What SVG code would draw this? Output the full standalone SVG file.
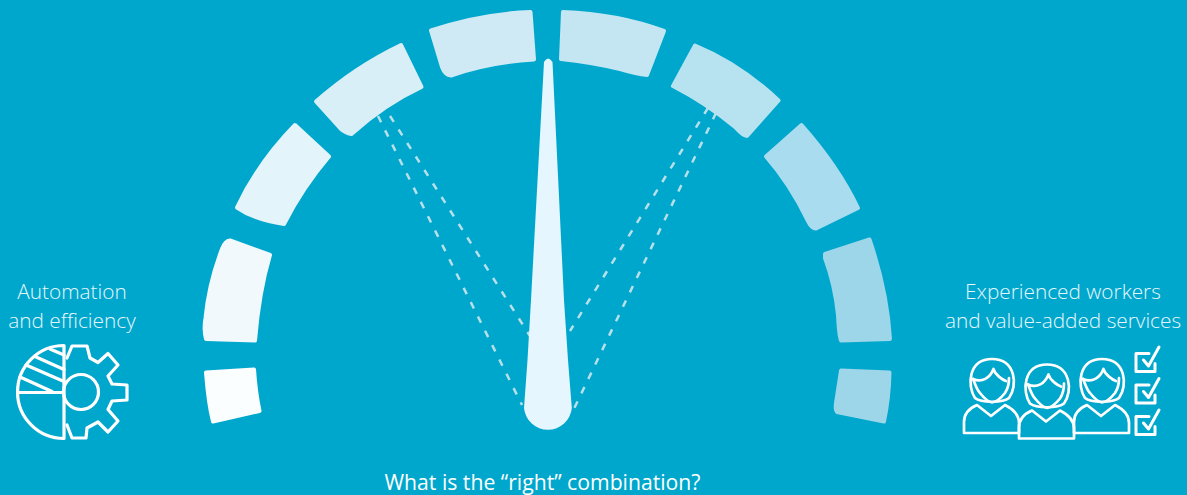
<svg xmlns="http://www.w3.org/2000/svg" xmlns:xlink="http://www.w3.org/1999/xlink" width="1187" height="495" viewBox="0 0 1187 495">
<style>
.seg{stroke-width:4;stroke-linejoin:round}
.dash{fill:none;stroke:#b8e0ea;stroke-width:2.500;stroke-dasharray:7 9}
.ico{fill:none;stroke:#fff;stroke-width:3.200;stroke-linejoin:round;stroke-linecap:round}
.thin{stroke-width:2.700}
.chk{stroke-width:3}
.lab{font-family:"Open Sans","Liberation Sans",sans-serif;font-weight:300;font-size:20.800px;fill:#e6f6fb;text-anchor:middle}
.cap{font-family:"Open Sans","Liberation Sans",sans-serif;font-weight:400;font-size:21.200px;fill:#fff;text-anchor:middle}
</style>
<defs>
<g id="person">
<path d="M975 398C967 386 968 359 992 359C1016 359 1018 386 1009 398C1003 403 981 403 975 398Z"/>
<path d="M973 379C976 386 977 390 980 393C984 398 988 402 992 402.500C996 402 1001 398 1005 393C1007 390 1009 386 1009 378"/>
<path d="M973 379C982 383 990 378 993.500 369C995 375 1003 380 1006 381"/>
<path d="M964 433V422C964 413 970 408 977 405L991 416L1005 405C1013 409 1019 414 1019 423V433Z"/>
</g>
<g id="check">
<path d="M1149 353.500H1136V371.500H1155V363.500"/>
<path d="M1143.500 360L1148.500 366L1159 347"/>
</g>
</defs>
<rect width="1187" height="495" fill="#00a7cd"/>
<g id="connectors">
<path class="dash" d="M378 116L522 405"/>
<path class="dash" d="M390 116L530 336"/>
<path class="dash" d="M716 113L571 415"/>
<path class="dash" d="M708 108L570 331"/>
</g>
<g id="segment-1"><path class="seg" fill="#fbfeff" stroke="#fbfeff" d="M206 372.500L254 369.500Q255.500 392 259.500 411L213 421.500Q208.500 404 206 372.500Z"/></g>
<g id="segment-2"><path class="seg" fill="#f1f9fd" stroke="#f1f9fd" d="M206 339Q203.500 330 205.500 318Q209 283 222 249Q225 241 230 240.500L270 255Q259 292 255 340.500Z"/></g>
<g id="segment-3"><path class="seg" fill="#e4f4fb" stroke="#e4f4fb" d="M237 207.500Q258 163 295 125L329 156.500Q303 187 284 224Q255 220 237 207.500Z"/></g>
<g id="segment-4"><path class="seg" fill="#d8eff7" stroke="#d8eff7" d="M316 101.500Q355 67 401 45L421.500 87Q385 104 351.500 134Q345 133 340 128Z"/></g>
<g id="segment-5"><path class="seg" fill="#cfeaf5" stroke="#cfeaf5" d="M431 30.500Q480 14 530.500 12L534 59.500Q490 62 451 75.500Q445 75 442 67Z"/></g>
<g id="segment-6"><path class="seg" fill="#c3e6f2" stroke="#c3e6f2" d="M563 12Q618 14 664 31L647 75Q637 74 620 69Q590 62 561 59Z"/></g>
<g id="segment-7"><path class="seg" fill="#b7e2f0" stroke="#b7e2f0" d="M695 45.500Q740 64 778.500 100.500L747 136Q743 136 735 127Q706 103 673 86Z"/></g>
<g id="segment-8"><path class="seg" fill="#a9dcee" stroke="#a9dcee" d="M766 156.500L801.500 125Q838 166 858 208L816 228.500Q812 229 808 221Q790 184 766 156.500Z"/></g>
<g id="segment-9"><path class="seg" fill="#9dd6e9" stroke="#9dd6e9" d="M825 254L869.500 239.500Q887 290 890 339L841 340.500Q839 336 838 315Q835 285 825 258Z"/></g>
<g id="segment-10"><path class="seg" fill="#9dd6e9" stroke="#9dd6e9" d="M841 370.500L889.500 372.500Q889 398 884 421.500L837 412Q835 409 836 403Z"/></g>
<g id="needle"><path fill="#e6f6fe" d="M544 62Q548 55 552.500 62L564 300L568 360L571.800 408A24 24 0 0 1 524 408L527.500 360L531 300Z"/></g>
<g id="left-label">
<text class="lab" x="72" y="298.500">Automation</text>
<text class="lab" x="72" y="327.500">and efficiency</text>
</g>
<g id="automation-icon" class="ico">
<path d="M64 345.500A46.500 46.500 0 0 0 64 438.500V345.500M18 392.500H64"/>
<path d="M50 349L64 355M35 356.500L64 369.500M26 365L64 381.500M20 377L52 391.500"/>
<circle cx="81" cy="392" r="17.500"/>
<path d="M67 358L72 346H87L90 358L98 362.500L108 353.500L118 365L108 376L112 384L127 385V400L112 401L108 409.500L118 421L108 432L98 422L87 428L86 438H72L67 425"/>
</g>
<g id="right-label">
<text class="lab" x="1063" y="298.500">Experienced workers</text>
<text class="lab" x="1063" y="327.500">and value-added services</text>
</g>
<g id="workers-icon" class="ico thin">
<use xlink:href="#person"/>
<use xlink:href="#person" x="110"/>
<use xlink:href="#person" x="55" y="5.500"/>
</g>
<g id="checklist-icon" class="ico chk">
<use xlink:href="#check"/>
<use xlink:href="#check" y="31.500"/>
<use xlink:href="#check" y="63"/>
</g>
<g id="caption"><text class="cap" x="542.500" y="490">What is the “right” combination?</text></g>
</svg>
